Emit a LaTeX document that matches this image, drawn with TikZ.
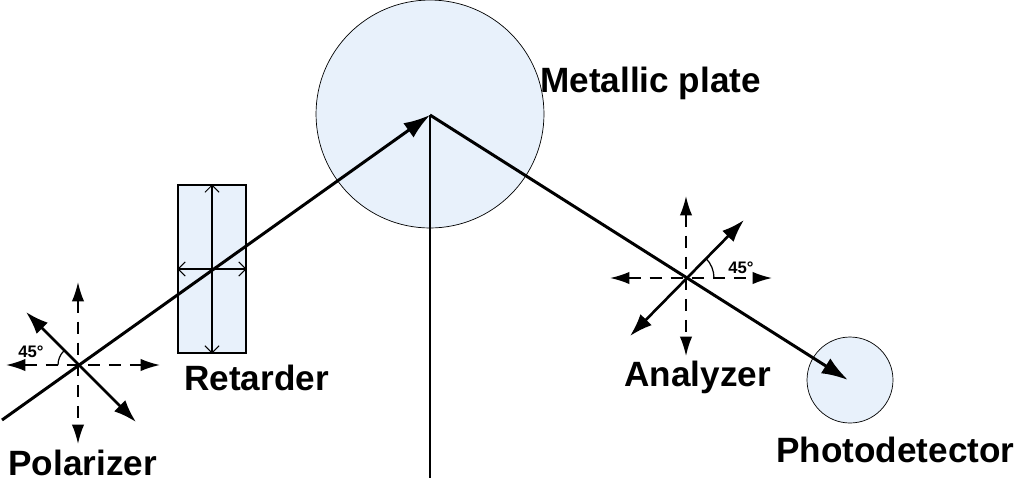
\documentclass[tikz,border=0pt]{standalone}
\usepackage{fontspec}
\setmainfont{Liberation Sans}
\usetikzlibrary{arrows.meta}
\definecolor{lb}{RGB}{232,241,251}
\begin{document}
\begin{tikzpicture}[x=0.02cm,y=-0.02cm,
 beam/.style={line width=1.7pt},
 pol/.style={line width=1.5pt,{Latex[length=13pt,width=9pt]}-{Latex[length=13pt,width=9pt]}},
 ax/.style={line width=0.9pt,dash pattern=on 7pt off 5pt,{Latex[length=11pt,width=7pt]}-{Latex[length=11pt,width=7pt]}},
 lab/.style={font=\fontsize{20}{22}\selectfont\bfseries,inner sep=0pt},
 small/.style={font=\fontsize{9.5}{10}\selectfont\bfseries,inner sep=0pt}]
\useasboundingbox (0,0) rectangle (1020,481);
% metallic plate
\node (plate) [circle,draw,fill=lb,minimum size=4.56cm,inner sep=0pt] at (430,114) {};
\coordinate (R) at (430,115);
\coordinate (bottom) at (430,478);
\draw[line width=0.9pt] (R) -- (bottom);
% retarder
\node (ret) [draw,fill=lb,minimum width=1.36cm,minimum height=3.36cm,inner sep=0pt,line width=0.6pt] at (212,269) {};
\draw[line width=0.6pt,{Straight Barb[length=4pt]}-{Straight Barb[length=4pt]}] (ret.north) -- (ret.south);
\draw[line width=0.6pt,{Straight Barb[length=4pt]}-{Straight Barb[length=4pt]}] (ret.west) -- (ret.east);
% photodetector
\node (pd) [circle,draw,fill=lb,minimum size=1.72cm,inner sep=0pt] at (850,380) {};
% polarizer
\coordinate (P) at (78,365);
\coordinate (Pl) at (6,365); \coordinate (Pr) at (160,365);
\coordinate (Pt) at (78,282); \coordinate (Pb) at (78,444);
\draw[ax] (Pl) -- (Pr);
\draw[ax] (Pt) -- (Pb);
\coordinate (P1) at (26,312); \coordinate (P2) at (136,422);
\draw[pol] (P1) -- (P2);
\draw[line width=0.7pt] (58,365) arc (180:225:20);
\node[small] (p45) at (31,352) {45°};
% analyzer
\coordinate (A) at (686,278);
\coordinate (Al) at (610,278); \coordinate (Ar) at (772,278);
\coordinate (At) at (686,196); \coordinate (Ab) at (686,356);
\draw[ax] (Al) -- (Ar);
\draw[ax] (At) -- (Ab);
\coordinate (A1) at (630,336); \coordinate (A2) at (744,220);
\draw[pol] (A1) -- (A2);
\draw[line width=0.7pt] (714,278) arc (0:-45:28);
\node[small] (a45) at (741,268) {45°};
% beams
\coordinate (S) at (2,420);
\draw[beam,-{Latex[length=15pt,width=10pt]}] (S) -- (R);
\coordinate (D) at (848,380);
\draw[beam,-{Latex[length=15pt,width=10pt]}] (R) -- (D);
% labels
\node[lab,anchor=west] (lm) at (540,83) {Metallic plate};
\node[lab,anchor=west] (lr) at (184,378) {Retarder};
\node[lab,anchor=west] (lp) at (8,463) {Polarizer};
\node[lab,anchor=west] (la) at (624,377) {Analyzer};
\node[lab,anchor=west] (lpd) at (776,450) {Photodetector};
\end{tikzpicture}
\end{document}
